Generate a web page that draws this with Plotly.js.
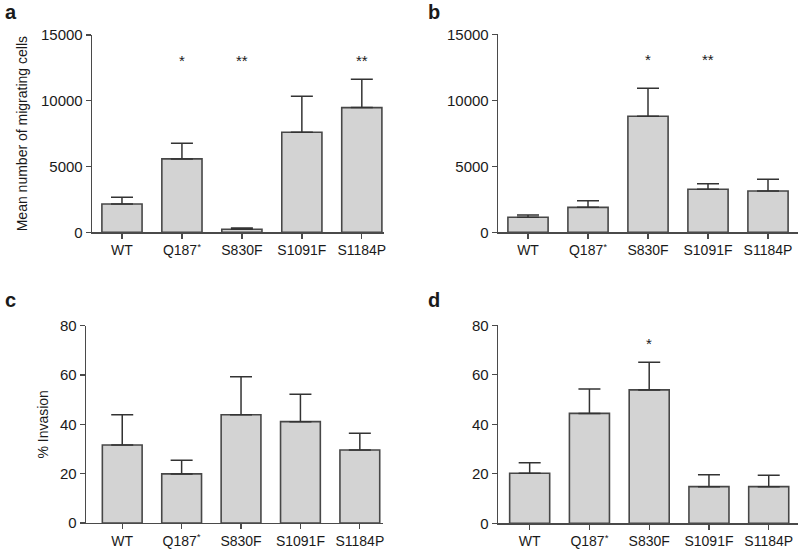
<!DOCTYPE html>
<html>
<head>
<meta charset="utf-8">
<script src="https://cdn.plot.ly/plotly-3.0.1.min.js"></script>
<style>html,body{margin:0;padding:0;background:#fff;}#chart{width:800px;height:553px;}</style>
</head>
<body>
<div id="chart"></div>
<script>
// ---- data ----
var categories = ["WT", "Q187<sup>*</sup>", "S830F", "S1091F", "S1184P"];

var migrationA = [2150, 5580, 230, 7610, 9480];
var migrationAErrTop = [2660, 6770, 330, 10350, 11640];
var starsA = ["", "*", "**", "", "**"];

var migrationB = [1140, 1890, 8790, 3260, 3130];
var migrationBErrTop = [1310, 2390, 10910, 3680, 4015];
var starsB = ["", "", "*", "**", ""];

var invasionC = [31.6, 19.9, 43.9, 41.1, 29.6];
var invasionCErrTop = [43.9, 25.4, 59.3, 52.2, 36.4];
var starsC = ["", "", "", "", ""];

var invasionD = [20.2, 44.4, 53.9, 14.8, 14.8];
var invasionDErrTop = [24.5, 54.3, 65.1, 19.6, 19.4];
var starsD = ["", "", "*", "", ""];

var starLevelMigration = 13400;
var starLevelInvasion = 74.3;

var panelLabels = ["a", "b", "c", "d"];

// ---- helpers ----
var W = 800, H = 553;
function fx(px) { return px / W; }
function fy(py) { return 1 - py / H; }

var FAM = "Liberation Sans";
var barFill = "#d3d3d3";
var barLine = "#474747";
var axisCol = "#4a4a4a";
var textCol = "#1a1a1a";

function barTrace(vals, errTop, xa, ya) {
  var plus = vals.map(function (v, i) { return errTop[i] - v; });
  var minus = vals.map(function () { return 0; });
  return {
    type: "bar",
    x: categories,
    y: vals,
    xaxis: xa,
    yaxis: ya,
    width: 0.67,
    marker: { color: barFill, line: { color: barLine, width: 1.6 } },
    error_y: {
      type: "data", symmetric: false, array: plus, arrayminus: minus,
      color: "#333333", thickness: 1.5, width: 11
    },
    hoverinfo: "skip",
    showlegend: false
  };
}

var data = [
  barTrace(migrationA, migrationAErrTop, "x", "y"),
  barTrace(migrationB, migrationBErrTop, "x2", "y2"),
  barTrace(invasionC, invasionCErrTop, "x3", "y3"),
  barTrace(invasionD, invasionDErrTop, "x4", "y4")
];

function xAxis(domPx, range, anchor) {
  return {
    domain: [fx(domPx[0]), fx(domPx[1])],
    anchor: anchor,
    type: "category",
    range: range,
    showline: true, linecolor: axisCol, linewidth: 1.3,
    ticks: "outside", ticklen: 5, tickwidth: 1.3, tickcolor: axisCol,
    showgrid: false, zeroline: false,
    tickfont: { family: FAM, size: 14, color: textCol },
    fixedrange: true
  };
}
function yAxis(domPx, range, dtick, anchor, title, standoff) {
  var ax = {
    domain: [fy(domPx[1]), fy(domPx[0])],
    anchor: anchor,
    range: range,
    tickmode: "linear",
    dtick: dtick,
    tick0: 0,
    tickformat: "d",
    showline: true, linecolor: axisCol, linewidth: 1.3,
    ticks: "outside", ticklen: 5, tickwidth: 1.3, tickcolor: axisCol,
    showgrid: false, zeroline: false,
    tickfont: { family: FAM, size: 15, color: textCol },
    fixedrange: true
  };
  if (title) {
    ax.title = { text: title, font: { family: FAM, size: 14, color: textCol }, standoff: standoff };
  }
  return ax;
}

var annotations = [];
function addStars(stars, level, xref, yref) {
  stars.forEach(function (s, i) {
    if (!s) return;
    annotations.push({
      x: categories[i], y: level, xref: xref, yref: yref,
      text: s, showarrow: false, yshift: -4,
      font: { family: FAM, size: 15, color: textCol }
    });
  });
}
addStars(starsA, starLevelMigration, "x", "y");
addStars(starsB, starLevelMigration, "x2", "y2");
addStars(starsC, starLevelInvasion, "x3", "y3");
addStars(starsD, starLevelInvasion, "x4", "y4");

var labelPos = [[3, 12], [426, 12], [3, 300], [426, 300]];
panelLabels.forEach(function (l, i) {
  annotations.push({
    x: fx(labelPos[i][0]), y: fy(labelPos[i][1]), xref: "paper", yref: "paper",
    xanchor: "left", yanchor: "middle", showarrow: false,
    text: "<b>" + l + "</b>",
    font: { family: FAM, size: 20, color: textCol }
  });
});

var layout = {
  width: W, height: H,
  margin: { l: 0, r: 0, t: 0, b: 0 },
  paper_bgcolor: "#ffffff",
  plot_bgcolor: "rgba(0,0,0,0)",
  font: { family: FAM, size: 14, color: textCol },
  showlegend: false,
  xaxis: xAxis([92, 384], [-0.5, 4.37], "y"),
  yaxis: yAxis([35, 232.3], [0, 15000], 5000, "x", "Mean number of migrating cells", 10),
  xaxis2: xAxis([498, 798], [-0.5, 4.5], "y2"),
  yaxis2: yAxis([34.3, 232.3], [0, 15000], 5000, "x2", null, 0),
  xaxis3: xAxis([86, 383], [-0.61, 4.39], "y3"),
  yaxis3: yAxis([325.7, 523], [0, 80], 20, "x3", "% Invasion", 8),
  xaxis4: xAxis([498, 798], [-0.53, 4.49], "y4"),
  yaxis4: yAxis([325.3, 523.3], [0, 80], 20, "x4", null, 0),
  annotations: annotations
};

Plotly.newPlot("chart", data, layout, { displayModeBar: false, staticPlot: true });
</script>
</body>
</html>
